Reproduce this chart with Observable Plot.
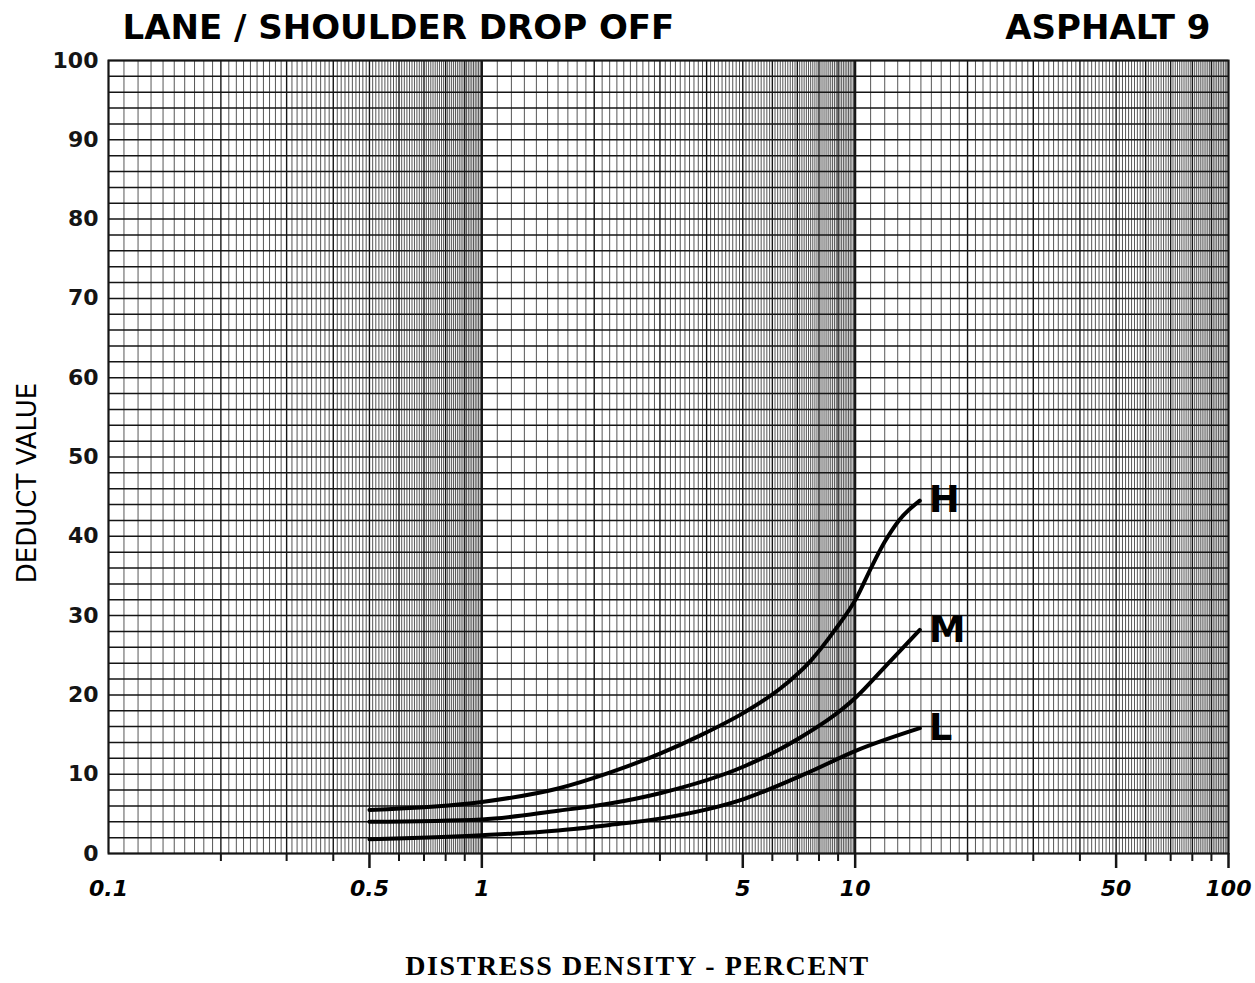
<!DOCTYPE html>
<html>
<head>
<meta charset="utf-8">
<script src="https://cdn.jsdelivr.net/npm/d3@7"></script>
<script src="https://cdn.jsdelivr.net/npm/@observablehq/plot@0.6"></script>
<style>
  html, body { margin: 0; padding: 0; background: #fff; }
</style>
</head>
<body>
<div id="chart"></div>
<script>
// ---- data ----
const titleText = "LANE / SHOULDER DROP OFF";
const sheetText = "ASPHALT 9";
const yTitle = "DEDUCT VALUE";
const xTitle = "DISTRESS DENSITY - PERCENT";

const xLabelValues = [0.1, 0.5, 1, 5, 10, 50, 100];
const xLabelTexts  = ["0.1", "0.5", "1", "5", "10", "50", "100"];
const longTicks  = [0.5, 1, 5, 10, 50, 100];
const shortTicks = [0.2, 0.3, 0.4, 0.6, 0.7, 0.8, 0.9, 2, 3, 4, 6, 7, 8, 9, 20, 30, 40, 60, 70, 80, 90];
const yTicks = [0, 10, 20, 30, 40, 50, 60, 70, 80, 90, 100];

const hX = [0.5, 1, 1.6, 2.2, 3, 3.85, 5.05, 6.3, 7.6, 8.8, 10.1, 11, 12, 13.1, 14.9];
const hY = [5.5, 6.5, 8.2, 10.2, 12.6, 14.9, 17.8, 20.8, 24.3, 28.1, 32.3, 35.9, 39.3, 42.0, 44.5];
const mX = [0.5, 1, 1.6, 2.2, 3, 5.05, 7, 10.1, 12, 14.9];
const mY = [4.0, 4.3, 5.4, 6.3, 7.6, 11.0, 14.4, 19.8, 23.5, 28.2];
const lX = [0.5, 1, 1.6, 2.2, 3, 5.05, 7.4, 10.1, 14.9];
const lY = [1.8, 2.3, 2.9, 3.6, 4.4, 6.9, 10.1, 13.0, 15.8];
const curveNames = ["H", "M", "L"];

// ---- grid of the log paper ----
const decades = [0.1, 1, 10];
const minorV = [];
const majorV = [];
for (const d of decades) {
  for (let k = 10; k < 100; k++) {
    const v = +(d * k / 10).toPrecision(6);
    if (k % 10 === 0) majorV.push(v); else minorV.push(v);
  }
}
majorV.push(100);
const heavyV = [1, 10];
const hGrid = d3.range(0, 101, 2);

const rows = [];
[[hX, hY], [mX, mY], [lX, lY]].forEach(([xs, ys], i) => {
  xs.forEach((x, j) => rows.push({series: curveNames[i], x, y: ys[j]}));
});
const ends = curveNames.map((s) => {
  const r = rows.filter(d => d.series === s);
  return r[r.length - 1];
});

const ink = "#151515";
const chart = Plot.plot({
  width: 1255,
  height: 983,
  marginLeft: 108,
  marginRight: 27,
  marginTop: 60,
  marginBottom: 130,
  style: {background: "#fff", fontFamily: "DejaVu Sans", color: ink},
  x: {type: "log", domain: [0.1, 100]},
  y: {domain: [0, 100]},
  marks: [
    Plot.ruleX(minorV, {stroke: ink, strokeWidth: 0.9, strokeOpacity: 0.8}),
    Plot.ruleX(majorV, {stroke: ink, strokeWidth: 1.4}),
    Plot.ruleX(heavyV, {stroke: ink, strokeWidth: 2.2}),
    Plot.ruleY(hGrid, {stroke: ink, strokeWidth: 1.5}),
    Plot.frame({stroke: ink, strokeWidth: 2}),
    Plot.axisX({ticks: longTicks, tickSize: 15, strokeWidth: 2.5, tickFormat: () => "", label: null}),
    Plot.axisX({ticks: shortTicks, tickSize: 8, strokeWidth: 2, tickFormat: () => "", label: null}),
    Plot.text(xLabelValues, {x: d => d, text: (d, i) => xLabelTexts[i], frameAnchor: "bottom",
      lineAnchor: "middle", textAnchor: "middle", dy: 35,
      fontSize: 22, fontStyle: "italic", fontWeight: "bold", fontFamily: "DejaVu Sans", fill: "#000"}),
    Plot.axisY({ticks: yTicks, tickSize: 0, tickPadding: 10, label: null,
      fontSize: 22, fontWeight: "bold", fontFamily: "DejaVu Sans"}),
    Plot.line(rows, {x: "x", y: "y", z: "series", curve: "monotone-x", stroke: "#000", strokeWidth: 4}),
    Plot.text(ends, {x: "x", y: "y", text: "series", textAnchor: "start", lineAnchor: "middle", dx: 9,
      fontSize: 37, fontWeight: "bold", fontFamily: "DejaVu Sans", fill: "#000"}),
    Plot.text([titleText], {text: d => d, frameAnchor: "top-left", dx: 14, dy: -32,
      textAnchor: "start", lineAnchor: "middle",
      fontSize: 34, fontWeight: "bold", fontFamily: "DejaVu Sans", fill: "#000"}),
    Plot.text([sheetText], {text: d => d, frameAnchor: "top-right", dx: -18, dy: -32,
      textAnchor: "end", lineAnchor: "middle",
      fontSize: 34, fontWeight: "bold", fontFamily: "DejaVu Sans", fill: "#000"}),
    Plot.text([yTitle], {text: d => d, frameAnchor: "left", dx: -81, dy: 26, rotate: -90,
      textAnchor: "middle", lineAnchor: "middle",
      fontSize: 26, fontFamily: "DejaVu Sans", fill: "#000"}),
    Plot.text([xTitle], {text: d => d, frameAnchor: "bottom", dx: -31, dy: 113,
      textAnchor: "middle", lineAnchor: "middle",
      fontSize: 28, fontWeight: "bold", fontFamily: "Liberation Serif", fill: "#000"})
  ]
});
d3.select(chart).selectAll("text")
  .filter(function () { return this.textContent === xTitle; })
  .attr("letter-spacing", "1.6");
document.getElementById("chart").appendChild(chart);
</script>
</body>
</html>
